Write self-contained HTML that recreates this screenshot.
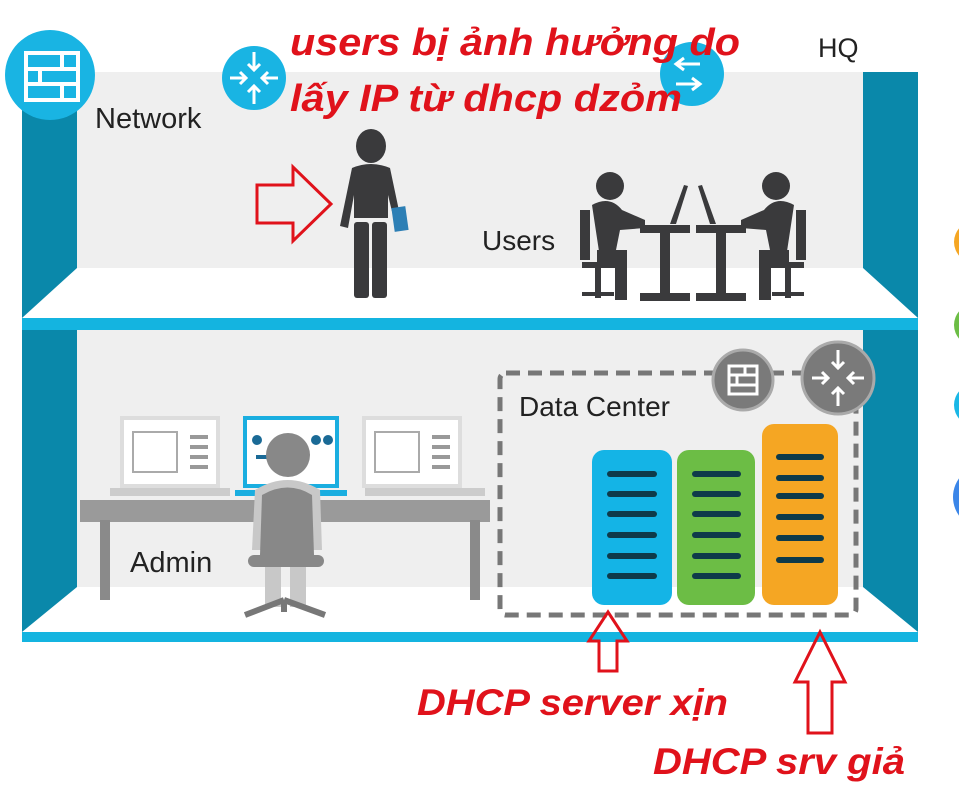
<!DOCTYPE html>
<html><head><meta charset="utf-8"><style>
html,body{margin:0;padding:0;background:#fff;width:959px;height:797px;overflow:hidden}
svg{display:block}
.lbl{font-family:"Liberation Sans",sans-serif;fill:#222;font-weight:300}
.red{font-family:"Liberation Sans","Noto Sans CJK SC",sans-serif;fill:#e0121b;font-weight:bold;font-style:italic}
</style></head><body>
<svg width="959" height="797" viewBox="0 0 959 797" xmlns="http://www.w3.org/2000/svg">
<circle cx="975" cy="242" r="21" fill="#f5a623"/>
<circle cx="975" cy="325" r="21" fill="#6cbd45"/>
<circle cx="975" cy="405" r="21" fill="#1ab7e6"/>
<circle cx="985" cy="497" r="32" fill="#3b86e8"/>
<rect x="77" y="72" width="786" height="196" fill="#efefef"/>
<polygon points="22,100 77,100 77,268 22,318" fill="#0a88aa"/>
<polygon points="863,72 918,72 918,318 863,268" fill="#0a88aa"/>
<rect x="22" y="318" width="896" height="12" fill="#14b4e0"/>
<rect x="77" y="330" width="786" height="257" fill="#efefef"/>
<polygon points="22,330 77,330 77,587 22,632" fill="#0a88aa"/>
<polygon points="863,330 918,330 918,632 863,587" fill="#0a88aa"/>
<rect x="22" y="632" width="896" height="10" fill="#14b4e0"/>

<circle cx="50" cy="75" r="45" fill="#19b4e3"/>
<g fill="none" stroke="#fff" stroke-width="4">
<rect x="26" y="53" width="52" height="47"/>
<line x1="26" y1="69" x2="78" y2="69"/><line x1="26" y1="84" x2="78" y2="84"/>
<line x1="62" y1="53" x2="62" y2="69"/><line x1="40" y1="69" x2="40" y2="84"/><line x1="62" y1="84" x2="62" y2="100"/>
</g>
<circle cx="254" cy="78" r="32" fill="#19b4e3"/>
<g stroke="#fff" stroke-width="3" fill="none">
<path d="M254 52v18M248 64l6 6 6-6M254 104v-18M248 92l6-6 6 6M230 78h16M240 72l6 6-6 6M278 78h-16M268 72l-6 6 6 6"/>
</g>
<circle cx="692" cy="74" r="32" fill="#19b4e3"/>
<g stroke="#fff" stroke-width="3" fill="none"><path d="M676 64h24M676 84h24M684 58l-8 6 8 6M692 78l8 6-8 6"/></g>

<text class="lbl" x="95" y="128" font-size="29">Network</text>
<text class="lbl" x="818" y="57" font-size="27">HQ</text>
<text class="lbl" x="482" y="250" font-size="28">Users</text>
<text class="lbl" x="130" y="572" font-size="29">Admin</text>
<text class="lbl" x="519" y="416" font-size="28">Data Center</text>

<g fill="#3a3a3c">
<ellipse cx="371" cy="146" rx="15" ry="17"/>
<path d="M352 168 Q371 160 390 168 L402 225 L396 228 L388 195 L388 218 L354 218 L354 195 L348 228 L340 226 Z"/>
<rect x="354" y="222" width="15" height="76" rx="3"/><rect x="372" y="222" width="15" height="76" rx="3"/>
</g>
<rect x="393" y="207" width="14" height="24" fill="#2d7fb5" transform="rotate(-8 400 219)"/>
<g fill="#3a3a3c">
<circle cx="610" cy="186" r="14"/>
<path d="M592 205 Q610 195 622 210 L645 220 L645 228 L620 230 L615 255 L600 258 Z"/>
<rect x="597" y="250" width="30" height="12"/><rect x="615" y="255" width="12" height="45"/>
<rect x="580" y="210" width="10" height="50"/><rect x="582" y="262" width="40" height="6"/>
<rect x="595" y="268" width="6" height="30"/><rect x="582" y="292" width="32" height="4"/>
<rect x="640" y="225" width="50" height="8"/><rect x="660" y="233" width="10" height="65"/><rect x="640" y="293" width="50" height="8"/>
<polygon points="670,224 676,224 688,186 684,185"/>
<circle cx="776" cy="186" r="14"/>
<path d="M794 205 Q776 195 764 210 L741 220 L741 228 L766 230 L771 255 L786 258 Z"/>
<rect x="759" y="250" width="30" height="12"/><rect x="759" y="255" width="12" height="45"/>
<rect x="796" y="210" width="10" height="50"/><rect x="764" y="262" width="40" height="6"/>
<rect x="785" y="268" width="6" height="30"/><rect x="772" y="292" width="32" height="4"/>
<rect x="696" y="225" width="50" height="8"/><rect x="716" y="233" width="10" height="65"/><rect x="696" y="293" width="50" height="8"/>
<polygon points="716,224 710,224 698,186 702,185"/>
</g>
<polygon points="257,185 293,185 293,167 331,204 293,241 293,223 257,223" fill="none" stroke="#e0121b" stroke-width="3"/>

<rect x="80" y="500" width="410" height="22" fill="#9a9a9a"/>
<rect x="100" y="520" width="10" height="80" fill="#8a8a8a"/><rect x="470" y="520" width="10" height="80" fill="#8a8a8a"/>
<rect x="110" y="488" width="120" height="8" fill="#ccc"/><rect x="365" y="488" width="120" height="8" fill="#ccc"/>
<rect x="122" y="418" width="96" height="68" fill="#fff" stroke="#ddd" stroke-width="4"/>
<rect x="364" y="418" width="96" height="68" fill="#fff" stroke="#ddd" stroke-width="4"/>
<rect x="133" y="432" width="44" height="40" fill="none" stroke="#aaa" stroke-width="2"/>
<rect x="375" y="432" width="44" height="40" fill="none" stroke="#aaa" stroke-width="2"/>
<g fill="#999"><rect x="190" y="435" width="18" height="4"/><rect x="190" y="445" width="18" height="4"/><rect x="190" y="455" width="18" height="4"/><rect x="190" y="465" width="18" height="4"/>
<rect x="432" y="435" width="18" height="4"/><rect x="432" y="445" width="18" height="4"/><rect x="432" y="455" width="18" height="4"/><rect x="432" y="465" width="18" height="4"/></g>
<rect x="245" y="418" width="92" height="68" fill="#fff" stroke="#1aaee0" stroke-width="4"/>
<rect x="235" y="490" width="112" height="6" fill="#1aaee0"/>
<g fill="#1a6a96"><circle cx="257" cy="440" r="5"/><circle cx="316" cy="440" r="5"/><circle cx="328" cy="440" r="5"/><rect x="256" y="455" width="20" height="4"/></g>
<g fill="#888">
<ellipse cx="288" cy="455" rx="22" ry="22"/>
<path d="M255 490 Q288 470 320 490 L322 550 L252 550 Z" fill="#c8c8c8"/>
<path d="M262 495 Q288 480 312 495 L314 555 L260 555 Z"/>
<rect x="248" y="555" width="76" height="12" rx="6"/>
<rect x="265" y="567" width="16" height="40" fill="#c8c8c8"/><rect x="290" y="567" width="16" height="40" fill="#c8c8c8"/>
<path d="M284 600 L245 615 M284 600 L325 615 M284 600 L284 612" stroke="#777" stroke-width="6" fill="none"/>
</g>

<rect x="500" y="373" width="356" height="242" rx="6" fill="none" stroke="#777" stroke-width="5" stroke-dasharray="14,8"/>
<circle cx="743" cy="380" r="30" fill="#7a7a7a" stroke="#aaa" stroke-width="3"/>
<g fill="none" stroke="#fff" stroke-width="3"><rect x="729" y="366" width="28" height="28"/><line x1="729" y1="375" x2="757" y2="375"/><line x1="729" y1="385" x2="757" y2="385"/><line x1="745" y1="366" x2="745" y2="375"/><line x1="737" y1="375" x2="737" y2="385"/></g>
<circle cx="838" cy="378" r="36" fill="#7a7a7a" stroke="#aaa" stroke-width="3"/>
<g stroke="#fff" stroke-width="3" fill="none"><path d="M838 350v18M832 362l6 6 6-6M838 406v-18M832 394l6-6 6 6M812 378h16M822 372l6 6-6 6M864 378h-16M854 372l-6 6 6 6"/></g>
<rect x="592" y="450" width="80" height="155" rx="12" fill="#14b4e6"/>
<rect x="677" y="450" width="78" height="155" rx="12" fill="#6cbd45"/>
<rect x="762" y="424" width="76" height="181" rx="12" fill="#f5a623"/>
<g stroke="#0e3a4a" stroke-width="6" stroke-linecap="round">
<line x1="610" y1="474" x2="654" y2="474"/><line x1="610" y1="494" x2="654" y2="494"/><line x1="610" y1="514" x2="654" y2="514"/><line x1="610" y1="535" x2="654" y2="535"/><line x1="610" y1="556" x2="654" y2="556"/><line x1="610" y1="576" x2="654" y2="576"/>
<line x1="695" y1="474" x2="738" y2="474"/><line x1="695" y1="494" x2="738" y2="494"/><line x1="695" y1="514" x2="738" y2="514"/><line x1="695" y1="535" x2="738" y2="535"/><line x1="695" y1="556" x2="738" y2="556"/><line x1="695" y1="576" x2="738" y2="576"/>
<line x1="779" y1="457" x2="821" y2="457"/><line x1="779" y1="478" x2="821" y2="478"/><line x1="779" y1="496" x2="821" y2="496"/><line x1="779" y1="517" x2="821" y2="517"/><line x1="779" y1="538" x2="821" y2="538"/><line x1="779" y1="560" x2="821" y2="560"/>
</g>
<polygon points="608,612 627,641 617,641 617,671 599,671 599,641 589,641" fill="none" stroke="#e0121b" stroke-width="3"/>
<polygon points="820,632 845,682 832,682 832,733 808,733 808,682 795,682" fill="none" stroke="#e0121b" stroke-width="3"/>

<text class="red" x="290" y="55" font-size="38" textLength="450" lengthAdjust="spacingAndGlyphs">users bị ảnh hưởng do</text>
<text class="red" x="290" y="111" font-size="38" textLength="392" lengthAdjust="spacingAndGlyphs">lấy IP từ dhcp dzỏm</text>
<text class="red" x="417" y="715" font-size="37" textLength="311" lengthAdjust="spacingAndGlyphs">DHCP server xịn</text>
<text class="red" x="653" y="774" font-size="37" textLength="252" lengthAdjust="spacingAndGlyphs">DHCP srv giả</text>
</svg>
</body></html>
